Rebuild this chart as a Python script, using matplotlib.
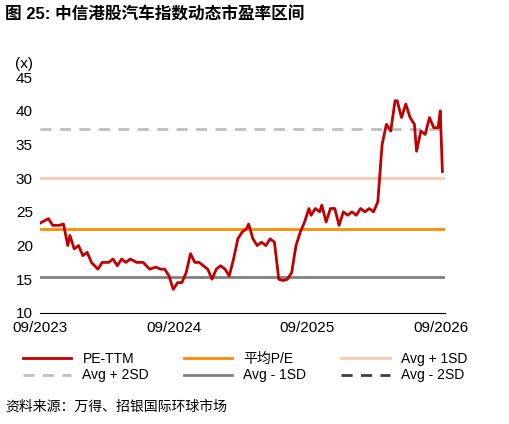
import matplotlib
matplotlib.use("Agg")
import matplotlib.pyplot as plt
from matplotlib.lines import Line2D

plt.rcParams['font.family'] = ['Liberation Sans', 'Noto Sans CJK SC', 'DejaVu Sans']

# x positions in fractional years, PE values
px = [40,48,52,58,62,66,68,72,76,80,84,88,94,98,104,108,112,116,120,124,130,136,142,148,152,156,160,164,168,172,176,180,184,188,192,196,200,204,208,212,216,220,224,228,232,234,238,242,246,250,254,258,262,266,270,274,278,282,286,290,292,296,300,302,306,310,314,318,322,326,330,334,338,342,346,350,354,358,362,366,370,372,376,380,384,388,390,394,398,402,406,410,412,414]
pe = [23.3,24.0,23,23,23.2,20,21.5,19.5,20,18.5,19,17.5,16.5,17.5,17.5,18,17,18,17.5,18,17.5,17.5,16.5,16.8,16.5,16.5,15.5,13.5,14.5,14.5,16,18.8,17.5,17.5,17,16.5,15,16.5,17,16.5,15.5,18,21,22,22.5,23.2,21,20,20.5,20,21,20.5,15,14.8,15,16,20,22,23.5,25.5,24.5,25.5,25,26,23.5,25.5,25.5,23,25,24.5,25,24.5,25.5,25,25.5,25,26.5,35,38,37,41.5,41.5,39,41,39,38,34,37,36.5,39,37.5,37.5,40,31]
years = [2023 + 8/12 + (p - 40) / 124.3 for p in px]

mean_pe = 22.5
plus1 = 30.0
plus2 = 37.3
minus1 = 15.3
minus2 = 7.7
xticks = [2023 + 8/12, 2024 + 8/12, 2025 + 8/12, 2026 + 8/12]
xticklabels = ["09/2023", "09/2024", "09/2025", "09/2026"]

fig = plt.figure(figsize=(5.1, 4.24), dpi=100)
ax = fig.add_axes([0.078, 0.262, 0.795, 0.556])

ax.axhline(plus1, color="#F8CBAD", lw=2)
ax.axhline(plus2, color="#BFBFBF", lw=2, ls=(0, (4, 3)))
ax.axhline(minus1, color="#808080", lw=2)
ax.axhline(minus2, color="#404040", lw=2, ls=(0, (4, 3)))
ax.axhline(mean_pe, color="#FF8C00", lw=2)
ax.plot(years, pe, color="#C00000", lw=2)

ax.set_ylim(10, 45)
ax.set_yticks(range(10, 46, 5))
ax.set_xlim(xticks[0], xticks[-1] + 0.03)
ax.set_xticks(xticks)
ax.set_xticklabels(xticklabels)
ax.tick_params(labelsize=11, length=0)
ax.tick_params(axis="x", pad=6)
ax.tick_params(axis="y", pad=5)
for s in ["top", "right", "left"]:
    ax.spines[s].set_visible(False)
ax.spines["bottom"].set_color("black")
ax.text(-0.06, 1.04, "(x)", transform=ax.transAxes, fontsize=11, ha="left")

fig.text(0.01, 0.965, "图 25: 中信港股汽车指数动态市盈率区间", fontsize=12, fontweight="bold", va="center")

h = {
    "PE-TTM": Line2D([], [], color="#C00000", lw=2),
    "平均P/E": Line2D([], [], color="#FF8C00", lw=2),
    "Avg + 1SD": Line2D([], [], color="#F8CBAD", lw=2),
    "Avg + 2SD": Line2D([], [], color="#BFBFBF", lw=2, ls=(0, (4, 3))),
    "Avg - 1SD": Line2D([], [], color="#808080", lw=2),
    "Avg - 2SD": Line2D([], [], color="#404040", lw=2, ls=(0, (4, 3))),
}
order = ["PE-TTM", "Avg + 2SD", "平均P/E", "Avg - 1SD", "Avg + 1SD", "Avg - 2SD"]
fig.legend([h[k] for k in order], order, ncol=3, loc="upper left", bbox_to_anchor=(0.02, 0.2),
           frameon=False, fontsize=10, handlelength=3.5, columnspacing=2.5, labelspacing=0.2)

fig.text(0.01, 0.04, "资料来源：万得、招银国际环球市场", fontsize=10, va="center")
fig.savefig("out.png", dpi=100)
